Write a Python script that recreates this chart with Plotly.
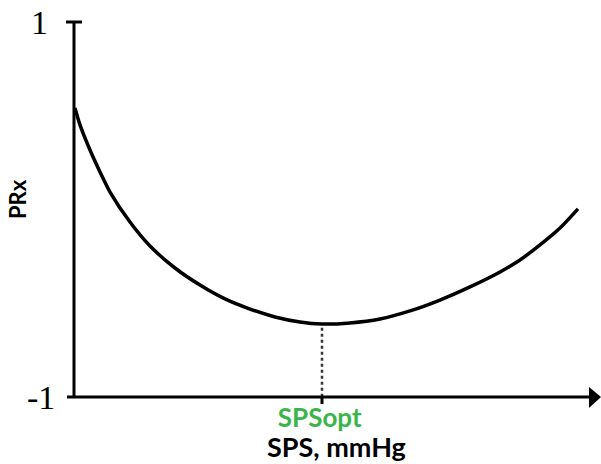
import plotly.graph_objects as go

# Schematic PRx vs systolic pressure curve (arbitrary SPS units 0-100)
sps = [0.19, 1.16, 3.10, 5.04, 6.98, 10.85, 14.73, 19.57, 24.42, 29.26, 34.11,
       38.95, 43.80, 48.06, 53.49, 59.30, 65.12, 70.93, 76.74, 82.56, 86.43,
       90.31, 94.19, 97.67]
prx = [0.541, 0.451, 0.317, 0.200, 0.093, -0.067, -0.195, -0.312, -0.403, -0.477,
       -0.531, -0.573, -0.600, -0.611, -0.605, -0.584, -0.541, -0.483, -0.413,
       -0.333, -0.269, -0.189, -0.099, 0.003]
sps_opt = 48.06
prx_opt = -0.611
y_ticks = [-1, 1]
y_tick_text = ["-1", "1"]
opt_label = "SPSopt"
x_title = "SPS, mmHg"
y_title = "PRx"

X_MAX = 100
fig = go.Figure()

fig.add_trace(go.Scatter(
    x=sps, y=prx, mode="lines",
    line=dict(color="black", width=3.5, shape="spline", smoothing=0.8),
    hoverinfo="skip", showlegend=False,
))

# dotted drop line from the minimum to the axis
fig.add_trace(go.Scatter(
    x=[sps_opt, sps_opt], y=[prx_opt - 0.02, -1], mode="lines",
    line=dict(color="#333333", width=2.5, dash="dot"),
    hoverinfo="skip", showlegend=False,
))

W, H = 601, 464
L, R, T, B = 74, 11, 22, 67
pw, ph = W - L - R, H - T - B


def px_to_paper_x(px):
    return (px - L) / pw


def px_to_paper_y(py):
    return (H - B - py) / ph


shapes = [
    # y axis
    dict(type="line", xref="paper", yref="paper", x0=0, x1=0,
         y0=px_to_paper_y(398), y1=1, line=dict(color="black", width=3)),
    # top cap
    dict(type="line", xref="paper", yref="paper",
         x0=px_to_paper_x(66), x1=px_to_paper_x(82), y0=1, y1=1,
         line=dict(color="black", width=3)),
    # x axis
    dict(type="line", xref="paper", yref="paper",
         x0=px_to_paper_x(67), x1=px_to_paper_x(591), y0=0, y1=0,
         line=dict(color="black", width=3)),
    # arrow head
    dict(type="path", xref="paper", yref="paper",
         path=(f"M {px_to_paper_x(589)} {px_to_paper_y(387)} "
               f"L {px_to_paper_x(601)} {px_to_paper_y(397)} "
               f"L {px_to_paper_x(589)} {px_to_paper_y(408)} Z"),
         fillcolor="black", line=dict(color="black", width=0)),
    # small tick at SPSopt
    dict(type="line", xref="x", yref="paper", x0=sps_opt, x1=sps_opt,
         y0=0, y1=px_to_paper_y(404), line=dict(color="black", width=3)),
]

# optimum label and axis title share one two-line text block
pad = "\u00a0" * 5
bottom_text = (f"<span style='font-size:26px;color:#3ab54a'><b>{opt_label}</b>{pad}</span>"
               f"<br><span style='font-size:27px'><b>{x_title}</b></span>")

annotations = [
    dict(text=bottom_text, x=sps_opt + 2.9, xref="x", y=px_to_paper_y(432), yref="paper",
         showarrow=False, xanchor="center", yanchor="middle",
         font=dict(family="Lato", size=23, color="black")),
    dict(text=f"<b>{y_title}</b>", x=px_to_paper_x(17), xref="paper", y=px_to_paper_y(199),
         yref="paper", showarrow=False, textangle=-90, xanchor="center", yanchor="middle",
         font=dict(family="Lato", size=22, color="black")),
]
for v, t in zip(y_ticks, y_tick_text):
    annotations.append(dict(
        text=t, x=px_to_paper_x(57 if v < 0 else 50), xref="paper", y=v, yref="y",
        showarrow=False, xanchor="right", yanchor="middle",
        font=dict(family="Liberation Serif", size=34, color="black")))

fig.update_layout(
    width=W, height=H,
    margin=dict(l=L, r=R, t=T, b=B),
    paper_bgcolor="white", plot_bgcolor="white",
    xaxis=dict(range=[0, X_MAX], visible=False),
    yaxis=dict(range=[-1, 1], visible=False),
    shapes=shapes, annotations=annotations,
)

fig.write_html("out.html")
